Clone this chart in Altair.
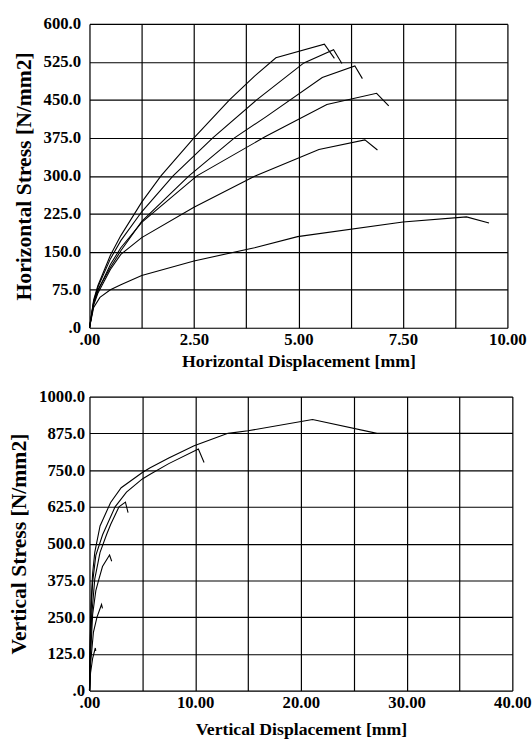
import altair as alt
import pandas as pd

# ---------------- Top panel: horizontal stress vs horizontal displacement
h1_x = [0, 0.1, 0.2, 0.5, 0.75, 1.25, 1.71, 2.5, 3.35, 3.95, 4.46, 5.62, 5.86]
h1_y = [0, 55, 83, 143, 182, 248, 300, 375, 450, 497, 533, 560, 532]
h2_x = [0, 0.1, 0.2, 0.5, 0.75, 1.25, 2.0, 2.95, 4.0, 5.13, 5.84, 6.04]
h2_y = [0, 52, 80, 136, 172, 229, 300, 375, 450, 523, 549, 522]
h3_x = [0, 0.1, 0.2, 0.5, 0.75, 1.25, 2.38, 3.47, 4.23, 5.57, 6.35, 6.53]
h3_y = [0, 50, 75, 119, 152, 210, 300, 375, 417, 494, 517, 492]
h4_x = [0, 0.1, 0.2, 0.5, 0.75, 1.25, 2.57, 4.2, 5.68, 6.87, 7.16]
h4_y = [0, 48, 72, 125, 158, 208, 300, 377, 441, 463, 438]
h5_x = [0, 0.1, 0.2, 0.5, 0.75, 1.25, 2.5, 3.95, 5.49, 6.59, 6.89]
h5_y = [0, 45, 68, 115, 145, 178, 238, 299, 352, 371, 351]
h6_x = [0, 0.1, 0.25, 0.5, 0.75, 1.25, 2.5, 3.95, 4.98, 7.5, 9.02, 9.56]
h6_y = [0, 40, 60, 75, 85, 103, 132, 158, 180, 209, 219, 207]

# ---------------- Bottom panel: vertical stress vs vertical displacement
v1_x = [0, 0.05, 0.15, 0.3, 0.5, 1.0, 2.0, 3.0, 5.0, 5.7, 7.5, 9.9, 13.1, 15.0, 21.1, 27.2, 40.0]
v1_y = [0, 150, 300, 400, 470, 560, 640, 690, 742, 757, 791, 833, 875, 884, 922, 875, 875]
v2_x = [0, 0.05, 0.15, 0.3, 0.6, 1.24, 2.42, 3.5, 5.0, 5.7, 7.5, 10.3, 10.84]
v2_y = [0, 130, 270, 370, 460, 530, 625, 675, 720, 735, 772, 822, 776]
v3_x = [0, 0.08, 0.2, 0.5, 1.0, 1.61, 2.0, 2.79, 3.4, 3.65]
v3_y = [0, 120, 250, 380, 470, 530, 565, 625, 641, 605]
v4_x = [0, 0.1, 0.3, 0.6, 0.86, 1.23, 1.9, 2.1]
v4_y = [0, 120, 260, 340, 375, 422, 461, 440]
v5_x = [0, 0.1, 0.37, 0.71, 1.14, 1.23]
v5_y = [0, 90, 198, 250, 293, 280]
v6_x = [0, 0.1, 0.3, 0.55, 0.6]
v6_y = [0, 60, 110, 145, 135]

h_x_grid = [0, 1.25, 2.5, 3.75, 5, 6.25, 7.5, 8.75, 10]
h_y_ticks = [0, 75, 150, 225, 300, 375, 450, 525, 600]
v_x_grid = [0, 5, 10, 15, 20, 25, 30, 35, 40]
v_y_ticks = [0, 125, 250, 375, 500, 625, 750, 875, 1000]


def frame(series):
    rows = []
    for name, xs, ys in series:
        for i, (a, b) in enumerate(zip(xs, ys)):
            rows.append({"curve": name, "i": i, "x": a, "y": b})
    return pd.DataFrame(rows)


hdf = frame([("h1", h1_x, h1_y), ("h2", h2_x, h2_y), ("h3", h3_x, h3_y),
             ("h4", h4_x, h4_y), ("h5", h5_x, h5_y), ("h6", h6_x, h6_y)])
vdf = frame([("v1", v1_x, v1_y), ("v2", v2_x, v2_y), ("v3", v3_x, v3_y),
             ("v4", v4_x, v4_y), ("v5", v5_x, v5_y), ("v6", v6_x, v6_y)])

FONT = "Liberation Serif"


def axis_x(values, title, every, tpad):
    return alt.Axis(
        values=values, title=title, ticks=False, domain=False,
        labelExpr=f"datum.value == 0 ? '.00' : (abs(datum.value % {every}) < 1e-9 ? format(datum.value, '.2f') : '')",
        labelFont=FONT, labelFontWeight="bold", labelFontSize=17, labelColor="black",
        labelPadding=4, labelFlush=False, labelOverlap=False,
        titleFont=FONT, titleFontWeight="bold", titleFontSize=18, titleColor="black",
        titlePadding=tpad, grid=True, gridColor="black", gridWidth=1.2,
    )


def axis_y(values, title, pad, tpad):
    return alt.Axis(
        values=values, title=title, ticks=False, domain=False,
        labelExpr="datum.value == 0 ? '.0' : format(datum.value, '.1f')",
        labelFont=FONT, labelFontWeight="bold", labelFontSize=17, labelColor="black",
        labelPadding=pad, labelFlush=False, labelOverlap=False,
        titleFont=FONT, titleFontWeight="bold", titleFontSize=22, titleColor="black",
        titlePadding=tpad, grid=True, gridColor="black", gridWidth=1.2,
    )


top = alt.Chart(hdf).mark_line(color="black", strokeWidth=1.1).encode(
    x=alt.X("x:Q", scale=alt.Scale(domain=[0, 10], nice=False),
            axis=axis_x(h_x_grid, "Horizontal Displacement [mm]", 2.5, 5)),
    y=alt.Y("y:Q", scale=alt.Scale(domain=[0, 600], nice=False),
            axis=axis_y(h_y_ticks, "Horizontal Stress [N/mm2]", 9, 8)),
    detail="curve:N",
    order="i:Q",
).properties(width=425, height=309)

bottom = alt.Chart(vdf).mark_line(color="black", strokeWidth=1.1).encode(
    x=alt.X("x:Q", scale=alt.Scale(domain=[0, 40], nice=False),
            axis=axis_x(v_x_grid, "Vertical Displacement [mm]", 10, 11)),
    y=alt.Y("y:Q", scale=alt.Scale(domain=[0, 1000], nice=False),
            axis=axis_y(v_y_ticks, "Vertical Stress [N/mm2]", 5, 8)),
    detail="curve:N",
    order="i:Q",
).properties(width=430, height=299)

chart = alt.vconcat(top, bottom, spacing=16).properties(
    padding={"left": 7, "top": 8, "right": 0, "bottom": 0}
).configure_view(stroke="black", strokeWidth=1.5).configure(background="white")

chart.save("out.html", embed_options={"renderer": "svg", "actions": False})
